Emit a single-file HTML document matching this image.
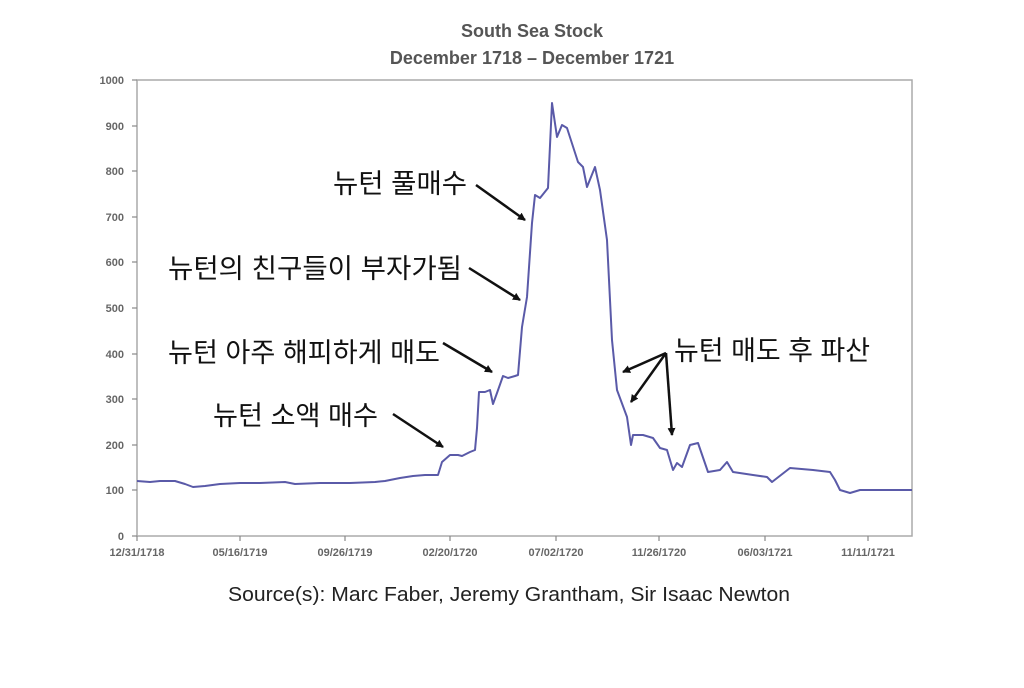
<!DOCTYPE html>
<html><head><meta charset="utf-8"><style>
body{margin:0;background:#fff;}
svg{display:block;}
.t{font-family:"Liberation Sans",sans-serif;font-weight:bold;fill:#555;}
.k{font-family:"Liberation Sans","Noto Sans CJK KR",sans-serif;fill:#111;font-size:27px;font-weight:normal;}
.ax{font-family:"Liberation Sans",sans-serif;font-size:11px;fill:#666;font-weight:bold;}
</style></head><body>
<svg width="1024" height="688" viewBox="0 0 1024 688">
<defs><marker id="a" markerWidth="8" markerHeight="8" refX="7" refY="4" orient="auto" markerUnits="userSpaceOnUse"><path d="M0,0 L8,4 L0,8 z" fill="#111"/></marker></defs>
<text class="t" x="532" y="37" font-size="18" text-anchor="middle">South Sea Stock</text>
<text class="t" x="532" y="64" font-size="18" text-anchor="middle">December 1718 – December 1721</text>
<rect x="137" y="80" width="775" height="456" fill="none" stroke="#aaa" stroke-width="1.5"/>
<g stroke="#888" stroke-width="1.2">
<line x1="132" y1="80" x2="137" y2="80"/><line x1="132" y1="126" x2="137" y2="126"/><line x1="132" y1="171" x2="137" y2="171"/><line x1="132" y1="217" x2="137" y2="217"/><line x1="132" y1="262" x2="137" y2="262"/><line x1="132" y1="308" x2="137" y2="308"/><line x1="132" y1="354" x2="137" y2="354"/><line x1="132" y1="399" x2="137" y2="399"/><line x1="132" y1="445" x2="137" y2="445"/><line x1="132" y1="490" x2="137" y2="490"/><line x1="132" y1="536" x2="137" y2="536"/>
<line x1="137" y1="536" x2="137" y2="541"/><line x1="240" y1="536" x2="240" y2="541"/><line x1="345" y1="536" x2="345" y2="541"/><line x1="450" y1="536" x2="450" y2="541"/><line x1="556" y1="536" x2="556" y2="541"/><line x1="659" y1="536" x2="659" y2="541"/><line x1="765" y1="536" x2="765" y2="541"/><line x1="868" y1="536" x2="868" y2="541"/>
</g>
<g class="ax" text-anchor="end">
<text x="124" y="84">1000</text><text x="124" y="130">900</text><text x="124" y="175">800</text><text x="124" y="221">700</text><text x="124" y="266">600</text><text x="124" y="312">500</text><text x="124" y="358">400</text><text x="124" y="403">300</text><text x="124" y="449">200</text><text x="124" y="494">100</text><text x="124" y="540">0</text>
</g>
<g class="ax" text-anchor="middle">
<text x="137" y="556">12/31/1718</text><text x="240" y="556">05/16/1719</text><text x="345" y="556">09/26/1719</text><text x="450" y="556">02/20/1720</text><text x="556" y="556">07/02/1720</text><text x="659" y="556">11/26/1720</text><text x="765" y="556">06/03/1721</text><text x="868" y="556">11/11/1721</text>
</g>
<polyline fill="none" stroke="#5a5aa8" stroke-width="2" stroke-linejoin="round" points="137,481 150,482 160,481 175,481 185,484 193,487 205,486 220,484 240,483 260,483 285,482 295,484 320,483 350,483 375,482 385,481 400,478 413,476 425,475 438,475 442,462 450,455 458,455 462,456 470,452 475,450 477,428 479,392 485,392 490,390 493,404 497,393 503,376 508,378 515,376 518,375 522,327 527,297 532,223 535,195 540,198 548,188 552,103 557,137 562,125 567,128 578,162 583,167 587,187 595,167 600,190 607,240 612,340 617,390 627,417 631,445 633,435 643,435 653,438 660,448 667,450 673,470 677,463 682,467 690,445 698,443 708,472 720,470 727,462 733,472 753,475 767,477 772,482 790,468 813,470 830,472 835,480 840,490 850,493 860,490 912,490"/>
<text class="k" x="467" y="193" text-anchor="end" textLength="134" lengthAdjust="spacingAndGlyphs">뉴턴 풀매수</text>
<text class="k" x="168" y="278" textLength="294" lengthAdjust="spacingAndGlyphs">뉴턴의 친구들이 부자가됨</text>
<text class="k" x="168" y="362" textLength="272" lengthAdjust="spacingAndGlyphs">뉴턴 아주 해피하게 매도</text>
<text class="k" x="213" y="425" textLength="165" lengthAdjust="spacingAndGlyphs">뉴턴 소액 매수</text>
<text class="k" x="674" y="360" textLength="196" lengthAdjust="spacingAndGlyphs">뉴턴 매도 후 파산</text>
<g stroke="#111" stroke-width="2.5" marker-end="url(#a)">
<line x1="476" y1="185" x2="525" y2="220"/>
<line x1="469" y1="268" x2="520" y2="300"/>
<line x1="443" y1="343" x2="492" y2="372"/>
<line x1="393" y1="414" x2="443" y2="447"/>
<line x1="666" y1="353" x2="623" y2="372"/>
<line x1="666" y1="353" x2="631" y2="402"/>
<line x1="666" y1="353" x2="672" y2="435"/>
</g>
<text x="509" y="601" font-family="Liberation Sans,sans-serif" font-size="20" fill="#222" text-anchor="middle" textLength="562" lengthAdjust="spacingAndGlyphs">Source(s): Marc Faber, Jeremy Grantham, Sir Isaac Newton</text>
</svg>
</body></html>
